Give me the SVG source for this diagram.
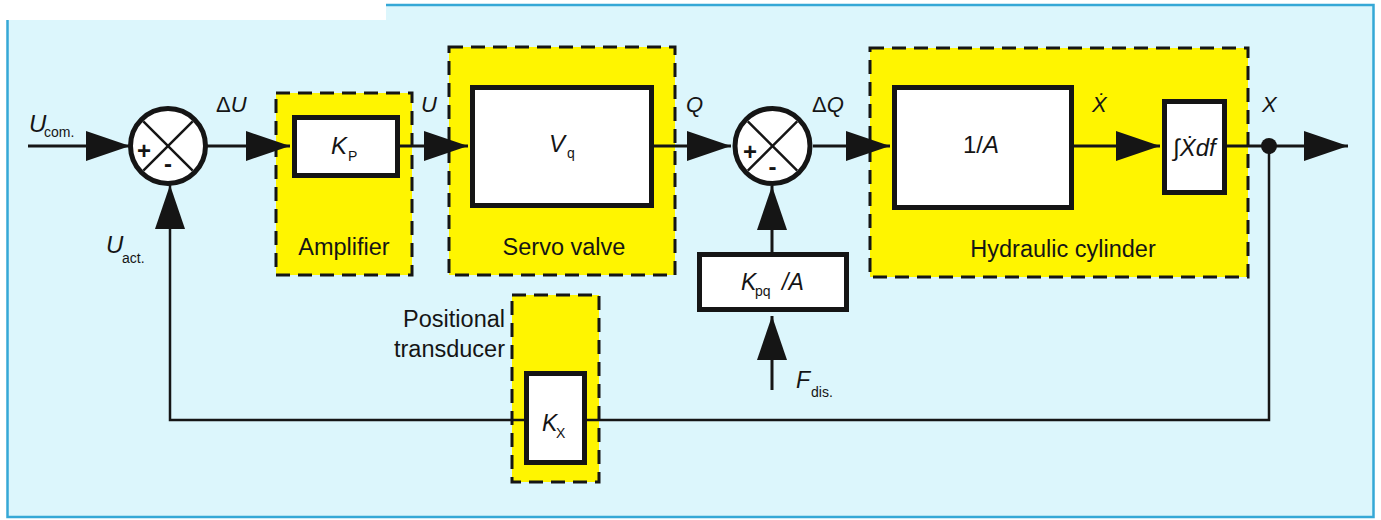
<svg xmlns="http://www.w3.org/2000/svg" width="1381" height="520" viewBox="0 0 1381 520">
<defs>
<style>
text{font-family:"Liberation Sans",Arial,"DejaVu Sans",sans-serif;fill:#151515;}
.lbl{font-size:23.5px;text-anchor:middle}
.lbr{font-size:23.5px;text-anchor:end}
.sig{font-size:22px;font-style:italic}
.big{font-size:24px;font-style:italic}
.mid{font-size:23px;font-style:italic}
.up{font-style:normal}
.sub{font-size:14px;font-style:normal}
.grp{fill:#fff500;stroke:#151515;stroke-width:3;stroke-dasharray:14 8}
.blk{fill:#fff;stroke:#151515;stroke-width:5}
.sum{fill:#fff;stroke:#151515;stroke-width:5}
.wire{fill:none;stroke:#151515;stroke-width:3}
.fb{fill:none;stroke:#151515;stroke-width:2.5}
.xl{stroke:#151515;stroke-width:2.5}
.sign{font-size:24px;font-weight:bold;text-anchor:middle;font-style:normal}
</style>
<marker id="ah" markerUnits="userSpaceOnUse" markerWidth="44" markerHeight="30" refX="44" refY="15" orient="auto" viewBox="0 0 44 30"><path d="M0,0 L44,15 L0,30 z" fill="#151515"/></marker>
</defs>

<rect width="1381" height="520" fill="#fff"/>
<rect x="7.5" y="5" width="1366" height="512" fill="#dcf6fc" stroke="#35a8d6" stroke-width="2.5"/>
<rect x="0" y="0" width="386" height="20" fill="#fff"/>

<g id="amplifier-group"><rect class="grp" x="276" y="93" width="136" height="182"/><text class="lbl" x="344" y="255">Amplifier</text></g>
<g id="servo-group"><rect class="grp" x="449" y="47" width="226" height="228"/><text class="lbl" x="564" y="255">Servo valve</text></g>
<g id="cylinder-group"><rect class="grp" x="870" y="48" width="378" height="229"/><text class="lbl" x="1063" y="257">Hydraulic cylinder</text></g>
<g id="transducer-group"><rect class="grp" x="512" y="295" width="87" height="187"/><text class="lbr" x="505" y="327">Positional</text><text class="lbr" x="505" y="357">transducer</text></g>

<g id="connectors">
<path class="wire" d="M28,146 H130" marker-end="url(#ah)"/>
<path class="wire" d="M206,146 H290" marker-end="url(#ah)"/>
<path class="wire" d="M400,146 H468" marker-end="url(#ah)"/>
<path class="wire" d="M654,146 H731" marker-end="url(#ah)"/>
<path class="wire" d="M813,146 H890" marker-end="url(#ah)"/>
<path class="wire" d="M1074,146 H1160" marker-end="url(#ah)"/>
<path class="wire" d="M1227,146 H1348" marker-end="url(#ah)"/>
<path class="fb" d="M1269,146 V420 H170 V185" marker-end="url(#ah)"/>
<path class="wire" d="M772,252 V186" marker-end="url(#ah)"/>
<path class="wire" d="M772,390 V316" marker-end="url(#ah)"/>
<circle cx="1269" cy="146" r="8" fill="#151515"/>
</g>

<g id="sum1">
<circle class="sum" cx="168" cy="146" r="37.5"/>
<line class="xl" x1="143.3" y1="121.3" x2="192.7" y2="170.7"/>
<line class="xl" x1="192.7" y1="121.3" x2="143.3" y2="170.7"/>
<text class="sign" x="144" y="159">+</text>
<text class="sign" x="168" y="172">-</text>
</g>
<g id="sum2">
<circle class="sum" cx="772.5" cy="146" r="37.5"/>
<line class="xl" x1="747.8" y1="121.3" x2="797.2" y2="170.7"/>
<line class="xl" x1="797.2" y1="121.3" x2="747.8" y2="170.7"/>
<text class="sign" x="750" y="160">+</text>
<text class="sign" x="772.5" y="175">-</text>
</g>

<g id="kp"><rect class="blk" x="294.5" y="117.5" width="103" height="58"/><text class="big" x="331" y="154" font-size="25">K<tspan class="sub" x="348" y="161">P</tspan></text></g>
<g id="vq"><rect class="blk" x="472.5" y="87.5" width="179" height="118"/><text class="big" x="549" y="152">V<tspan class="sub" x="567" y="158">q</tspan></text></g>
<g id="inv-a"><rect class="blk" x="894.5" y="87.5" width="177" height="120"/><text class="big" x="981" y="153" text-anchor="middle"><tspan class="up">1/</tspan>A</text></g>
<g id="integrator"><rect class="blk" x="1164.5" y="101.5" width="60" height="91"/><text class="big" x="1194.5" y="156" text-anchor="middle" font-size="25"><tspan class="up">∫</tspan>Ẋdf</text></g>
<g id="kpq"><rect class="blk" x="699.5" y="254.5" width="147" height="55"/><text class="mid" x="741" y="290">K<tspan class="sub" x="755" y="296">pq</tspan><tspan x="782" y="290">/A</tspan></text></g>
<g id="kx"><rect class="blk" x="526.5" y="373.5" width="58" height="89"/><text class="mid" x="542" y="431">K<tspan class="sub" x="556" y="438">X</tspan></text></g>

<g id="labels">
<text class="big" x="29" y="132">U<tspan class="sub" x="44" y="137">com.</tspan></text>
<text class="big" x="106" y="253">U<tspan class="sub" x="122" y="263">act.</tspan></text>
<text class="sig" x="216" y="112"><tspan class="up">Δ</tspan>U</text>
<text class="sig" x="421" y="112">U</text>
<text class="sig" x="686" y="112">Q</text>
<text class="sig" x="812" y="112"><tspan class="up">Δ</tspan>Q</text>
<text class="sig" x="1092" y="112">Ẋ</text>
<text class="sig" x="1262" y="112">X</text>
<text class="mid" x="796" y="388">F<tspan class="sub" x="811" y="397">dis.</tspan></text>
</g>
</svg>
